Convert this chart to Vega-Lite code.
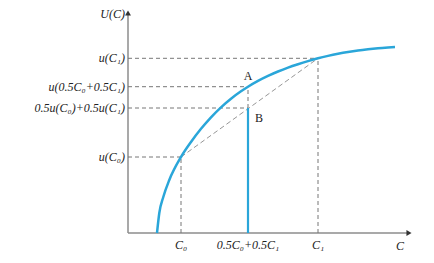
{
  "$schema": "https://vega.github.io/schema/vega-lite/v6.json",
  "width": 434,
  "height": 263,
  "padding": 0,
  "autosize": "none",
  "background": "white",
  "config": {"view": {"stroke": null}},
  "datasets": {
    "curve": [
      {"c": 2.9, "u": 0}, {"c": 3.13, "u": 2.0}, {"c": 3.53, "u": 3.6}, {"c": 4.13, "u": 5.3},
      {"c": 5.3, "u": 7.6}, {"c": 6.3, "u": 9.1}, {"c": 7.3, "u": 10.42}, {"c": 8.3, "u": 11.57},
      {"c": 9.3, "u": 12.57}, {"c": 10.3, "u": 13.43}, {"c": 11.3, "u": 14.17}, {"c": 12.0, "u": 14.63},
      {"c": 13, "u": 15.21}, {"c": 14, "u": 15.71}, {"c": 15, "u": 16.15}, {"c": 16, "u": 16.54},
      {"c": 17, "u": 16.88}, {"c": 18, "u": 17.19}, {"c": 19, "u": 17.47}, {"c": 20, "u": 17.71},
      {"c": 21, "u": 17.92}, {"c": 22, "u": 18.1}, {"c": 23, "u": 18.25}, {"c": 24, "u": 18.37},
      {"c": 25, "u": 18.47}, {"c": 26, "u": 18.55}, {"c": 26.7, "u": 18.6}
    ],
    "axes": [
      {"x": 0, "y": 0, "x2": 28.1, "y2": 0},
      {"x": 0, "y": 0, "x2": 0, "y2": 22}
    ],
    "arrows": [
      {"x": 28.1, "y": 0, "shape": "triangle-right"},
      {"x": 0, "y": 22, "shape": "triangle-up"}
    ],
    "dashed": [
      {"x": 0, "y": 17.47, "x2": 19, "y2": 17.47},
      {"x": 0, "y": 14.63, "x2": 12, "y2": 14.63},
      {"x": 0, "y": 12.5, "x2": 12, "y2": 12.5},
      {"x": 0, "y": 7.6, "x2": 5.3, "y2": 7.6},
      {"x": 5.3, "y": 0, "x2": 5.3, "y2": 7.6},
      {"x": 19, "y": 0, "x2": 19, "y2": 17.47},
      {"x": 12, "y": 12.5, "x2": 12, "y2": 14.63}
    ],
    "chord": [
      {"x": 5.3, "y": 7.6, "x2": 19, "y2": 17.47}
    ],
    "solid": [
      {"x": 12, "y": 0, "x2": 12, "y2": 12.5}
    ],
    "ylabels": [
      {"x": -0.3, "y": 21.9, "t": "U(C)"},
      {"x": -0.3, "y": 17.47, "t": "u(C₁)"},
      {"x": -0.3, "y": 14.63, "t": "u(0.5C₀+0.5C₁)"},
      {"x": -0.3, "y": 12.5, "t": "0.5u(C₀)+0.5u(C₁)"},
      {"x": -0.3, "y": 7.6, "t": "u(C₀)"}
    ],
    "xlabels": [
      {"x": 5.3, "y": -1.2, "t": "C₀"},
      {"x": 12, "y": -1.2, "t": "0.5C₀+0.5C₁"},
      {"x": 19, "y": -1.2, "t": "C₁"},
      {"x": 27.2, "y": -1.3, "t": "C"}
    ],
    "points": [
      {"x": 12, "y": 15.7, "t": "A"},
      {"x": 13.1, "y": 11.5, "t": "B"}
    ]
  },
  "layer": [
    {
      "data": {"name": "axes"},
      "mark": {"type": "rule", "color": "#8c8c8c", "strokeWidth": 1.5},
      "encoding": {
        "x": {"field": "x", "type": "quantitative", "scale": {"domain": [-12.8, 30.6], "nice": false, "zero": false}, "axis": null},
        "y": {"field": "y", "type": "quantitative", "scale": {"domain": [-3.0, 23.3], "nice": false, "zero": false}, "axis": null},
        "x2": {"field": "x2"},
        "y2": {"field": "y2"}
      }
    },
    {
      "data": {"name": "arrows"},
      "mark": {"type": "point", "filled": true, "color": "#333333", "size": 35, "opacity": 1},
      "encoding": {
        "x": {"field": "x", "type": "quantitative"},
        "y": {"field": "y", "type": "quantitative"},
        "shape": {"field": "shape", "type": "nominal", "scale": null}
      }
    },
    {
      "data": {"name": "dashed"},
      "mark": {"type": "rule", "color": "#777777", "strokeWidth": 1, "strokeDash": [4, 3]},
      "encoding": {
        "x": {"field": "x", "type": "quantitative"},
        "y": {"field": "y", "type": "quantitative"},
        "x2": {"field": "x2"},
        "y2": {"field": "y2"}
      }
    },
    {
      "data": {"name": "chord"},
      "mark": {"type": "rule", "color": "#8a8a8a", "strokeWidth": 0.9, "strokeDash": [5, 3]},
      "encoding": {
        "x": {"field": "x", "type": "quantitative"},
        "y": {"field": "y", "type": "quantitative"},
        "x2": {"field": "x2"},
        "y2": {"field": "y2"}
      }
    },
    {
      "data": {"name": "solid"},
      "mark": {"type": "rule", "color": "#2aa6d9", "strokeWidth": 2.2},
      "encoding": {
        "x": {"field": "x", "type": "quantitative"},
        "y": {"field": "y", "type": "quantitative"},
        "x2": {"field": "x2"},
        "y2": {"field": "y2"}
      }
    },
    {
      "data": {"name": "curve"},
      "mark": {"type": "line", "color": "#2aa6d9", "strokeWidth": 2.5, "interpolate": "monotone"},
      "encoding": {
        "x": {"field": "c", "type": "quantitative"},
        "y": {"field": "u", "type": "quantitative"}
      }
    },
    {
      "data": {"name": "ylabels"},
      "mark": {"type": "text", "align": "right", "baseline": "middle", "font": "Liberation Serif, DejaVu Serif, serif", "fontStyle": "italic", "fontSize": 12, "color": "#222222"},
      "encoding": {
        "x": {"field": "x", "type": "quantitative"},
        "y": {"field": "y", "type": "quantitative"},
        "text": {"field": "t", "type": "nominal"}
      }
    },
    {
      "data": {"name": "xlabels"},
      "mark": {"type": "text", "align": "center", "baseline": "middle", "font": "Liberation Serif, DejaVu Serif, serif", "fontStyle": "italic", "fontSize": 12, "color": "#222222"},
      "encoding": {
        "x": {"field": "x", "type": "quantitative"},
        "y": {"field": "y", "type": "quantitative"},
        "text": {"field": "t", "type": "nominal"}
      }
    },
    {
      "data": {"name": "points"},
      "mark": {"type": "text", "align": "center", "baseline": "middle", "font": "Liberation Serif, DejaVu Serif, serif", "fontSize": 12, "color": "#222222"},
      "encoding": {
        "x": {"field": "x", "type": "quantitative"},
        "y": {"field": "y", "type": "quantitative"},
        "text": {"field": "t", "type": "nominal"}
      }
    }
  ]
}
